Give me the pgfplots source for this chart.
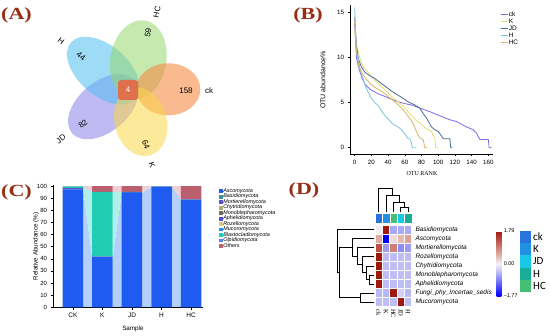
\documentclass[border=0pt]{standalone}
\usepackage{pgfplots}
\pgfplotsset{compat=1.18}
\usepackage{pgfplotstable}
\usepackage{graphicx}
\usepackage{fontspec}
\setmainfont{Liberation Serif}
\setsansfont{Liberation Sans}
\newfontfamily\calibri{Carlito}

\definecolor{labred}{RGB}{150,45,20}
\definecolor{vHC}{RGB}{150,215,110}
\definecolor{vck}{RGB}{245,140,70}
\definecolor{vK}{RGB}{250,215,70}
\definecolor{vJD}{RGB}{150,140,235}
\definecolor{vH}{RGB}{80,190,240}
\definecolor{vC}{RGB}{222,112,78}
\definecolor{lck}{RGB}{125,105,235}
\definecolor{lK}{RGB}{225,225,110}
\definecolor{lJD}{RGB}{75,105,145}
\definecolor{lH}{RGB}{120,195,230}
\definecolor{lHC}{RGB}{215,180,105}
\definecolor{cAsco}{RGB}{31,91,240}
\definecolor{cBasi}{RGB}{60,150,150}
\definecolor{cMort}{RGB}{95,80,210}
\definecolor{cChyt}{RGB}{180,170,115}
\definecolor{cMono}{RGB}{110,110,95}
\definecolor{cAphe}{RGB}{85,75,210}
\definecolor{cRoze}{RGB}{215,200,140}
\definecolor{cMuco}{RGB}{40,140,240}
\definecolor{cBlas}{RGB}{30,205,180}
\definecolor{cOlpi}{RGB}{90,125,240}
\definecolor{cOthe}{RGB}{185,95,110}
\definecolor{bAsco}{RGB}{178,208,250}
\definecolor{bBlas}{RGB}{175,240,235}
\definecolor{bOthe}{RGB}{240,205,215}
\definecolor{aCK}{RGB}{40,115,220}
\definecolor{aK}{RGB}{35,145,225}
\definecolor{aJD}{RGB}{25,200,230}
\definecolor{aH}{RGB}{25,175,150}
\definecolor{aHC}{RGB}{70,190,115}

\pgfplotstableread{
x y z
0 0 0.05
1 0 1.79
2 0 -0.6
3 0 -0.6
4 0 -0.6
0 1 0.53
1 1 -1.77
2 1 0.18
3 1 0.42
4 1 0.62
0 2 1.3
1 2 -0.7
2 2 0.9
3 2 -0.8
4 2 -0.7
0 3 1.79
1 3 -0.45
2 3 -0.45
3 3 -0.45
4 3 -0.45
0 4 1.79
1 4 -0.45
2 4 -0.45
3 4 -0.45
4 4 -0.45
0 5 1.79
1 5 -0.45
2 5 -0.45
3 5 -0.45
4 5 -0.45
0 6 1.79
1 6 -0.45
2 6 -0.45
3 6 -0.45
4 6 -0.45
0 7 -0.5
1 7 -0.5
2 7 1.79
3 7 -0.3
4 7 -0.5
0 8 -0.45
1 8 -0.45
2 8 -0.45
3 8 1.79
4 8 -0.45
}\heat

\begin{document}
\begin{tikzpicture}
\useasboundingbox (0,0) rectangle (550pt,336pt);
\fill[white] (0,0) rectangle (550pt,336pt);

% ---------------- Panel A: flower Venn and panel labels ----------------
\begin{scope}[x=1pt,y=-1pt,shift={(0pt,336pt)}]
  \fill[vJD, opacity=0.6, shift={(103.3,106.7)}, rotate=40] (0,0) ellipse [x radius=41pt, y radius=25pt];
  \fill[vH, opacity=0.55, shift={(103.3,70.7)}, rotate=-41] (0,0) ellipse [x radius=43pt, y radius=25pt];
  \fill[vHC, opacity=0.55, shift={(138.3,60)}, rotate=-10] (0,0) ellipse [x radius=28pt, y radius=40pt];
  \fill[vck, opacity=0.6, shift={(168.3,89.3)}] (0,0) ellipse [x radius=32pt, y radius=26pt];
  \fill[vK, opacity=0.55, shift={(140.7,121.7)}, rotate=15] (0,0) ellipse [x radius=26pt, y radius=35pt];
  \fill[vC, rounded corners=3pt] (118,80) rectangle (138,100);
  \node[font=\sffamily\fontsize{8}{9}\selectfont, text=white] at (128,90) {4};
  \begin{scope}[every node/.style={font=\sffamily\fontsize{8}{9}\selectfont, inner sep=0pt}]
    \node[rotate=78] at (148,33) {59};
    \node[rotate=78] at (157,12) {HC};
    \node at (186,91) {158};
    \node at (209,91) {ck};
    \node[rotate=-70] at (146,145) {64};
    \node[rotate=-70] at (152,165) {K};
    \node[rotate=38] at (83,124) {82};
    \node[rotate=38] at (61,139) {JD};
    \node[rotate=-38] at (81,56) {44};
    \node[rotate=-38] at (61,41) {H};
  \end{scope}
  \begin{scope}[every node/.style={font=\bfseries\fontsize{17}{17}\selectfont, text=labred, inner sep=0pt}]
    \node at (16.5,15.5) {\scalebox{1.3}[1]{(A)}};
    \node at (308,15) {\scalebox{1.3}[1]{(B)}};
    \node at (16.5,192.5) {\scalebox{1.3}[1]{(C)}};
    \node at (304,190) {\scalebox{1.3}[1]{(D)}};
  \end{scope}
  % group legend of panel D
  \fill[aCK] (520,230.7) rectangle (530.7,243);
  \fill[aK] (520,243) rectangle (530.7,255.3);
  \fill[aJD] (520,255.3) rectangle (530.7,267.6);
  \fill[aH] (520,267.6) rectangle (530.7,279.9);
  \fill[aHC] (520,279.9) rectangle (530.7,292.2);
  \begin{scope}[every node/.style={font=\calibri\fontsize{11}{12}\selectfont, anchor=west, inner sep=0pt}]
    \node at (533,236.8) {ck};
    \node at (533,249.1) {K};
    \node at (533,261.4) {JD};
    \node at (533,273.7) {H};
    \node at (533,286) {HC};
  \end{scope}
\end{scope}

% ---------------- Panel B: rank abundance ----------------
\begin{axis}[at={(350pt,182pt)}, anchor=south west, width=143pt, height=149pt, scale only axis,
  xmin=-5.6, xmax=165.6, ymin=-0.7, ymax=15.86,
  axis x line*=bottom, axis y line*=left, axis line style={line width=0.5pt,-},
  xtick={0,20,...,160}, ytick={0,5,10,15},
  tick align=outside, major tick length=2.5pt, tick style={black, line width=0.5pt},
  /pgf/number format/assume math mode=true,
  tick label style={font=\sffamily\fontsize{6.2}{7}\selectfont},
  xlabel={OTU RANK}, xlabel style={font=\rmfamily\fontsize{6}{7}\selectfont, at={(axis description cs:0.503,-0.128)}, anchor=center},
  ylabel={OTU abundance\%}, ylabel style={font=\sffamily\fontsize{7}{8}\selectfont, at={(axis description cs:-0.189,0.497)}, anchor=center},
  legend style={at={(1.028,0.976)}, anchor=north west, draw=none, fill=none, font=\sffamily\fontsize{6.5}{7}\selectfont, row sep=-0.6pt, nodes={inner sep=0.8pt}},
  legend cell align=left,
  legend image code/.code={\draw[#1] (0pt,0pt) -- (7pt,0pt);},
  every axis plot/.append style={line width=0.8pt, mark=none}
]
\addplot[lck] coordinates {(0,13.8) (1,12) (2,10.3) (2.4,9.9) (4,9.2) (6.4,8.4) (9,7.7) (12,7.1) (16,6.7) (20,6.4) (28,6.0) (36,5.7) (44,5.4) (52,5.1) (60,4.9) (68,4.75) (78,4.4) (90,4.0) (98,3.7) (106,3.4) (114,3.1) (122,2.9) (128,2.6) (134,2.3) (142,2.0) (146,1.6) (148,1.2) (150,0.9) (160,0.9) (161,0) (164,0)};
\addlegendentry{ck}
\addplot[lK] coordinates {(0,13) (1,12) (3,11) (6.4,9.9) (10,9.0) (16,8.4) (22,7.7) (26,7.3) (32,6.8) (38,6.3) (44,5.7) (52,5.1) (58,4.6) (64,4.0) (70,3.4) (74,3.0) (80,2.6) (84,2.2) (88,2.0) (92,1.8) (95,1.2) (96,1.0) (97,0) (100,0)};
\addlegendentry{K}
\addplot[lJD] coordinates {(0,14.5) (1,13) (2,11.5) (4.3,9.9) (8,9.0) (12,8.4) (18,8.0) (24,7.7) (34,7.0) (44,6.3) (56,5.6) (64,5.1) (72,4.75) (78,4.4) (82,3.8) (86,3.3) (92,2.3) (96,2.0) (100,1.8) (104,1.3) (106,1.0) (114,1.0) (115,0) (117,0)};
\addlegendentry{JD}
\addplot[lH] coordinates {(0,15.6) (1,13) (2,11) (3,10.2) (4.3,9.9) (6,9) (8,8.2) (10,7.7) (13,6.8) (16,6.2) (20,5.5) (24,5.0) (28,4.7) (32,4.1) (36,3.6) (40,3.2) (44,2.8) (48,2.5) (52,2.3) (56,2.0) (58,1.8) (61,1.4) (64,1.0) (66,1.0) (68,0.5) (69,0) (74,0)};
\addlegendentry{H}
\addplot[lHC] coordinates {(0,14) (1,12.5) (2,11) (3.5,9.9) (5,9.0) (8,8.4) (14,7.6) (20,7.0) (26,6.6) (32,6.3) (40,5.7) (48,5.1) (54,4.6) (60,4.0) (64,3.5) (68,3.0) (71,2.5) (74,1.8) (76,1.4) (78,1.1) (80,1.0) (82,0.9) (84,0) (87,0)};
\addlegendentry{HC}
\end{axis}

% ---------------- Panel C: alluvial bands (behind bars) ----------------
\begin{axis}[at={(53pt,28.7pt)}, anchor=south west, width=150pt, height=121.8pt, scale only axis,
  xmin=-0.67, xmax=4.4, ymin=0, ymax=100.5, hide axis]
\addplot[fill=bAsco, draw=none] coordinates {(0.346,0) (0.346,97.3) (0.654,41.5) (0.654,0)};
\addplot[fill=bAsco, draw=none] coordinates {(1.346,0) (1.346,41.5) (1.654,94.6) (1.654,0)};
\addplot[fill=bAsco, draw=none] coordinates {(2.346,0) (2.346,94.6) (2.654,99.5) (2.654,0)};
\addplot[fill=bAsco, draw=none] coordinates {(3.346,0) (3.346,99.5) (3.654,88.8) (3.654,0)};
\addplot[fill=bBlas, draw=none] coordinates {(0.346,98.6) (0.346,99.8) (0.654,95.3) (0.654,42.0)};
\addplot[fill=bBlas, draw=none] coordinates {(1.346,42.0) (1.346,95.3) (1.654,95.2) (1.654,95.1)};
\addplot[fill=bOthe, draw=none] coordinates {(0.346,99.8) (0.346,100) (0.654,100) (0.654,95.3)};
\addplot[fill=bOthe, draw=none] coordinates {(1.346,95.3) (1.346,100) (1.654,100) (1.654,95.2)};
\addplot[fill=bOthe, draw=none] coordinates {(2.346,95.2) (2.346,100) (2.654,100) (2.654,99.7)};
\addplot[fill=bOthe, draw=none] coordinates {(3.346,99.7) (3.346,100) (3.654,100) (3.654,89.1)};
\end{axis}

% ---------------- Panel C: stacked bars ----------------
\begin{axis}[at={(53pt,28.7pt)}, anchor=south west, width=150pt, height=121.8pt, scale only axis,
  xmin=-0.67, xmax=4.4, ymin=0, ymax=100.5,
  ybar stacked, bar width=20.5pt,
  axis x line*=bottom, axis y line*=left, axis line style={line width=0.5pt,-},
  xtick={0,1,2,3,4}, xticklabels={CK,K,JD,H,HC},
  ytick={0,10,...,100},
  tick align=outside, major tick length=2.5pt, tick style={black, line width=0.5pt},
  /pgf/number format/assume math mode=true,
  yticklabel style={font=\sffamily\fontsize{6}{7}\selectfont},
  xticklabel style={font=\sffamily\fontsize{6.5}{7}\selectfont},
  xlabel={Sample}, xlabel style={font=\sffamily\fontsize{6.3}{7}\selectfont, at={(axis description cs:0.533,-0.178)}, anchor=center},
  ylabel={Relative Abundance (\%)}, ylabel style={font=\sffamily\fontsize{6.3}{7}\selectfont, at={(axis description cs:-0.113,0.5)}, anchor=center},
  legend style={at={(1.087,0.996)}, anchor=north west, draw=none, fill=none, font=\sffamily\itshape\fontsize{5.4}{5.6}\selectfont, row sep=-0.9pt, nodes={inner sep=0.5pt}},
  legend cell align=left,
  legend image code/.code={\fill[#1] (0pt,-1.8pt) rectangle (3.6pt,1.8pt);},
  every axis plot/.append style={draw=none}
]
\addplot[fill=cAsco] coordinates {(0,97.3) (1,41.5) (2,94.6) (3,99.5) (4,88.8)};
\addlegendentry{Ascomycota}
\addplot[fill=cBasi] coordinates {(0,0.3) (1,0.4) (2,0.2) (3,0.1) (4,0.2)};
\addlegendentry{Basidiomycota}
\addplot[fill=cMort] coordinates {(0,1.0) (1,0.1) (2,0.2) (3,0) (4,0.1)};
\addlegendentry{Mortierellomycota}
\addplot[fill=cChyt] coordinates {(0,0) (1,0) (2,0) (3,0) (4,0)};
\addlegendentry{Chytridiomycota}
\addplot[fill=cMono] coordinates {(0,0) (1,0) (2,0) (3,0) (4,0)};
\addlegendentry{Monoblepharomycota}
\addplot[fill=cAphe] coordinates {(0,0) (1,0) (2,0) (3,0) (4,0)};
\addlegendentry{Aphelidiomycota}
\addplot[fill=cRoze] coordinates {(0,0) (1,0) (2,0) (3,0) (4,0)};
\addlegendentry{Rozellomycota}
\addplot[fill=cMuco] coordinates {(0,0) (1,0) (2,0.1) (3,0) (4,0)};
\addlegendentry{Mucoromycota}
\addplot[fill=cBlas] coordinates {(0,1.2) (1,53.3) (2,0.1) (3,0.1) (4,0)};
\addlegendentry{Blastocladiomycota}
\addplot[fill=cOlpi] coordinates {(0,0) (1,0) (2,0) (3,0) (4,0)};
\addlegendentry{Olpidiomycota}
\addplot[fill=cOthe] coordinates {(0,0.2) (1,4.7) (2,4.8) (3,0.3) (4,10.9)};
\addlegendentry{Others}
\end{axis}

% ---------------- Panel D: heatmap ----------------
\begin{axis}[at={(334.7pt,24.8pt)}, anchor=south west, width=80.63pt, height=126.98pt, scale only axis,
  xmin=-6, xmax=5, ymin=-5, ymax=9, y dir=reverse, hide axis, clip=false,
  colormap={hm}{rgb255(0pt)=(0,0,255); rgb255(1.3pt)=(188,188,245); rgb255(1.77pt)=(246,242,248); rgb255(2.3pt)=(225,170,160); rgb255(3.56pt)=(160,25,15)},
  point meta min=-1.77, point meta max=1.79,
  colorbar,
  colorbar style={at={(parent axis.north east)}, anchor=north west, xshift=72.7pt, yshift=-46.8pt,
    width=4.7pt, height=65pt, scale only axis,
    ytick={-1.77,0,1.79}, yticklabels={\textendash1.77,0.00,1.79},
    yticklabel style={font=\sffamily\fontsize{5.5}{6}\selectfont, xshift=-1pt},
    major tick length=0pt, axis line style={draw=none}}
]
\addplot[matrix plot*, mesh/cols=5, point meta=explicit, draw=white, line width=0.4pt] table[x=x, y=y, meta=z] {\heat};
% top annotation row (ck, K, HC, JD, H)
\fill[aCK, draw=white, line width=0.3pt] (axis cs:-0.5,-1.8) rectangle (axis cs:0.5,-0.75);
\fill[aK, draw=white, line width=0.3pt] (axis cs:0.5,-1.8) rectangle (axis cs:1.5,-0.75);
\fill[aHC, draw=white, line width=0.3pt] (axis cs:1.5,-1.8) rectangle (axis cs:2.5,-0.75);
\fill[aJD, draw=white, line width=0.3pt] (axis cs:2.5,-1.8) rectangle (axis cs:3.5,-0.75);
\fill[aH, draw=white, line width=0.3pt] (axis cs:3.5,-1.8) rectangle (axis cs:4.5,-0.75);
% column dendrogram
\addplot[black, line width=0.6pt, mark=none] coordinates {(3,-1.9) (3,-2.48) (4,-2.48) (4,-1.9)};
\addplot[black, line width=0.6pt, mark=none] coordinates {(2,-1.9) (2,-3.04) (3.5,-3.04) (3.5,-2.48)};
\addplot[black, line width=0.6pt, mark=none] coordinates {(1,-1.9) (1,-3.81) (2.75,-3.81) (2.75,-3.04)};
\addplot[black, line width=0.6pt, mark=none] coordinates {(0,-1.9) (0,-4.58) (1.875,-4.58) (1.875,-3.81)};
% row dendrogram
\addplot[black, line width=0.6pt, mark=none] coordinates {(-0.7,5) (-1.32,5) (-1.32,6) (-0.7,6)};
\addplot[black, line width=0.6pt, mark=none] coordinates {(-0.7,4) (-1.73,4) (-1.73,5.5) (-1.32,5.5)};
\addplot[black, line width=0.6pt, mark=none] coordinates {(-0.7,3) (-2.27,3) (-2.27,4.75) (-1.73,4.75)};
\addplot[black, line width=0.6pt, mark=none] coordinates {(-0.7,2) (-2.96,2) (-2.96,3.875) (-2.27,3.875)};
\addplot[black, line width=0.6pt, mark=none] coordinates {(-0.7,1) (-3.54,1) (-3.54,2.94) (-2.96,2.94)};
\addplot[black, line width=0.6pt, mark=none] coordinates {(-0.7,7) (-2.55,7) (-2.55,8) (-0.7,8)};
\addplot[black, line width=0.6pt, mark=none] coordinates {(-3.54,1.97) (-5.41,1.97) (-5.41,7.5) (-2.55,7.5)};
\addplot[black, line width=0.6pt, mark=none] coordinates {(-0.7,0) (-5.64,0) (-5.64,4.73) (-5.41,4.73)};
% row labels
\begin{scope}[every node/.style={anchor=west, font=\sffamily\itshape\fontsize{6.5}{7}\selectfont, inner sep=0pt}]
\node at (axis cs:5.0,0) {Basidiomycota};
\node at (axis cs:5.0,1) {Ascomycota};
\node at (axis cs:5.0,2) {Mortierellomycota};
\node at (axis cs:5.0,3) {Rozellomycota};
\node at (axis cs:5.0,4) {Chytridiomycota};
\node at (axis cs:5.0,5) {Monoblepharomycota};
\node at (axis cs:5.0,6) {Aphelidiomycota};
\node at (axis cs:5.0,7) {Fungi\_phy\_Incertae\_sedis};
\node at (axis cs:5.0,8) {Mucoromycota};
\end{scope}
% column labels
\begin{scope}[every node/.style={anchor=west, rotate=-90, font=\rmfamily\fontsize{6.5}{7}\selectfont, inner sep=0pt}]
\node at (axis cs:0,8.75) {ck};
\node at (axis cs:1,8.75) {K};
\node at (axis cs:2,8.75) {HC};
\node at (axis cs:3,8.75) {JD};
\node at (axis cs:4,8.75) {H};
\end{scope}
\end{axis}
\end{tikzpicture}
\end{document}
